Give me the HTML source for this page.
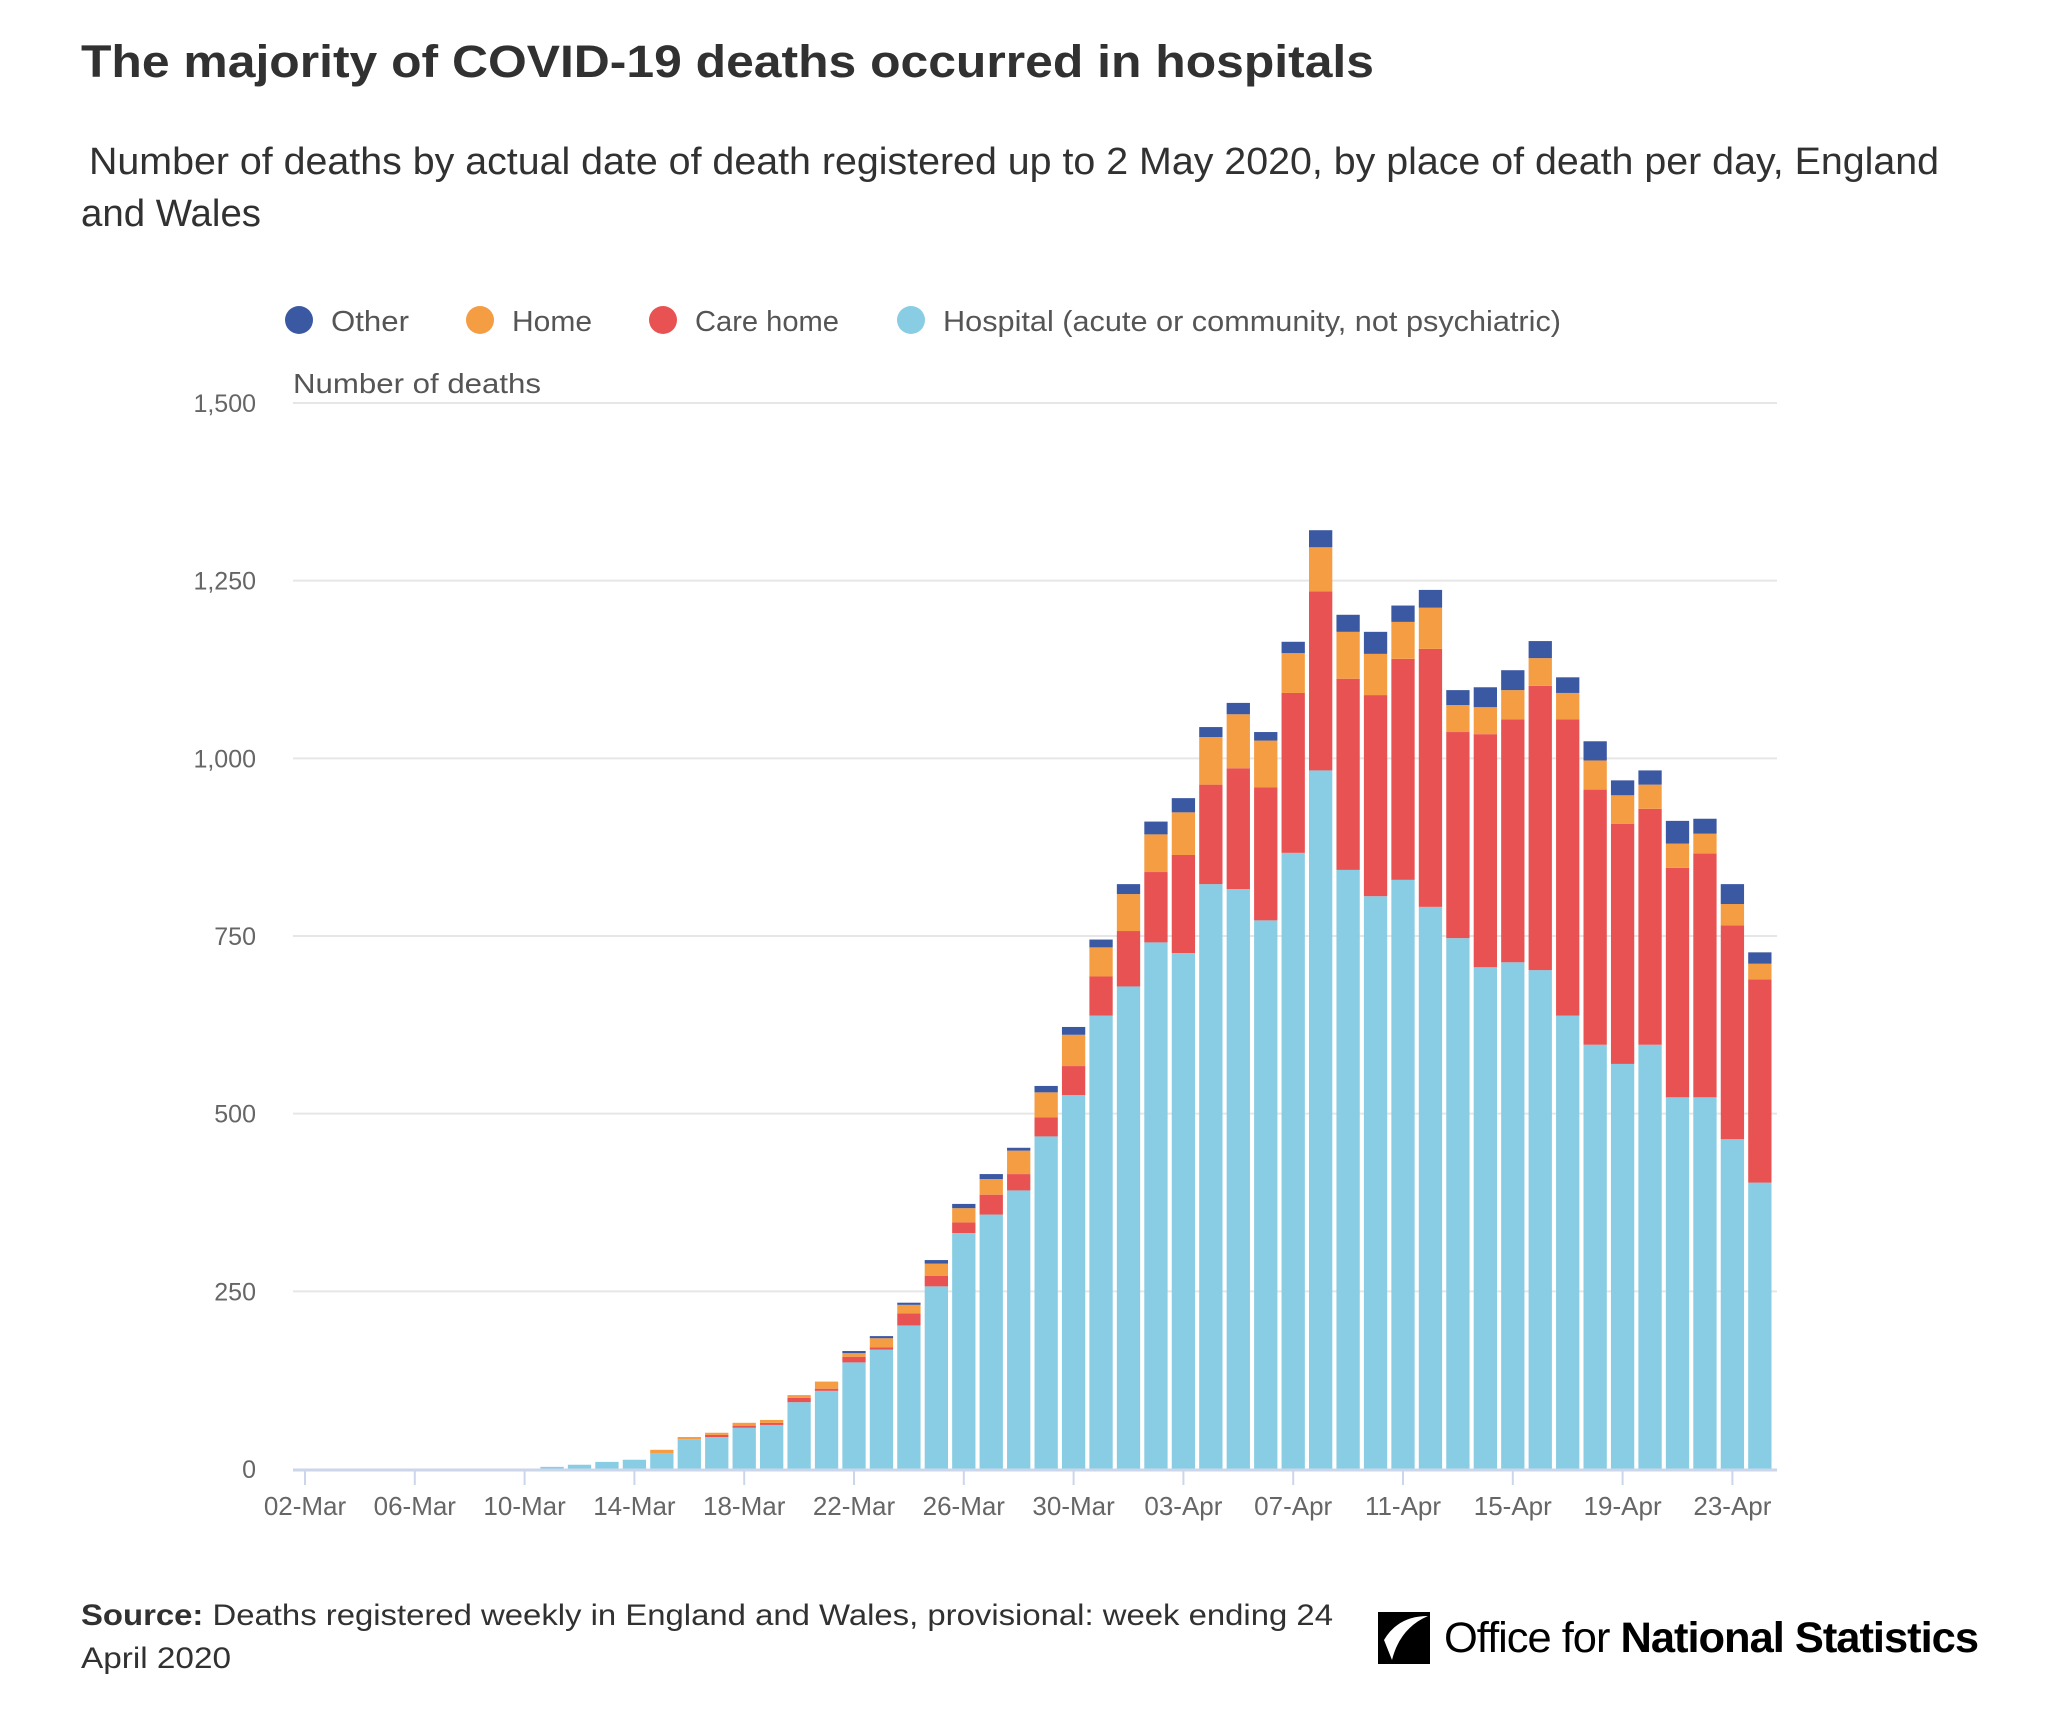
<!DOCTYPE html>
<html><head><meta charset="utf-8"><style>
body{margin:0;background:#fff;font-family:"Liberation Sans",sans-serif;}
#wrap{position:relative;width:2048px;height:1712px;overflow:hidden;}
</style></head><body>
<div id="wrap">
<svg id="chart" width="2048" height="1712" xmlns="http://www.w3.org/2000/svg">
<text x="81" y="77" font-size="45" font-weight="bold" fill="#323132" font-family="Liberation Sans, sans-serif" textLength="1293" lengthAdjust="spacingAndGlyphs">The majority of COVID-19 deaths occurred in hospitals</text>
<text x="89" y="174" font-size="38" fill="#323132" font-family="Liberation Sans, sans-serif" textLength="1850" lengthAdjust="spacingAndGlyphs">Number of deaths by actual date of death registered up to 2 May 2020, by place of death per day, England</text>
<text x="81" y="226" font-size="38" fill="#323132" font-family="Liberation Sans, sans-serif" textLength="180" lengthAdjust="spacingAndGlyphs">and Wales</text>
<g id="legend"></g>
<text x="293" y="393" font-size="28" fill="#555" font-family="Liberation Sans, sans-serif" textLength="248" lengthAdjust="spacingAndGlyphs">Number of deaths</text>
<g id="grid"></g>
<g id="bars"></g>
<g id="xaxis"></g>
<text x="81" y="1625" font-size="30" fill="#323132" font-family="Liberation Sans, sans-serif" textLength="1252" lengthAdjust="spacingAndGlyphs"><tspan font-weight="bold">Source:</tspan> Deaths registered weekly in England and Wales, provisional: week ending 24</text>
<text x="81" y="1668" font-size="30" fill="#323132" font-family="Liberation Sans, sans-serif" textLength="150" lengthAdjust="spacingAndGlyphs">April 2020</text>
<g>
<path d="M1378 1612 L1430 1612 L1430 1664 L1378 1664 Z" fill="#000"/>
<path d="M1384 1640 Q1398 1616 1428 1616 Q1400 1628 1392 1660 Z" fill="#fff"/>
<text x="1444" y="1652" font-size="43" fill="#000" font-family="Liberation Sans, sans-serif" letter-spacing="-1" textLength="534" lengthAdjust="spacingAndGlyphs">Office for <tspan font-weight="bold">National Statistics</tspan></text>
</g>
</svg>
</div>
<script>
const dayLabels = ["02-Mar","06-Mar","10-Mar","14-Mar","18-Mar","22-Mar","26-Mar","30-Mar","03-Apr","07-Apr","11-Apr","15-Apr","19-Apr","23-Apr"];
const yTicks = [0,250,500,750,1000,1250,1500];
const seriesNames = ["Other","Home","Care home","Hospital (acute or community, not psychiatric)"];
// index 0 = 02-Mar ... 53 = 24-Apr
const hospital = [0,0,0,0,0,0,0,0,0,3,6,10,13,22,42,45,58,62,94,110,150,168,202,257,332,358,392,468,526,638,679,741,726,823,816,772,867,983,843,806,829,791,747,706,713,702,638,597,570,597,523,523,464,403];
const careHome = [0,0,0,0,0,0,0,0,0,0,0,0,0,0,0,3,3,3,6,3,8,3,17,15,15,28,23,27,41,55,78,99,138,140,170,187,225,252,269,283,311,363,290,328,342,400,417,359,338,332,323,343,301,286];
const home     = [0,0,0,0,0,0,0,0,0,0,0,0,0,5,3,3,4,4,4,10,5,13,12,17,20,22,33,35,44,41,52,53,60,67,76,66,56,62,66,58,52,58,38,38,41,39,37,41,40,34,34,28,30,22];
const other    = [0,0,0,0,0,0,0,0,0,0,0,0,0,0,0,0,0,0,0,0,3,3,3,5,6,7,4,9,11,11,14,18,20,14,16,12,16,24,24,31,23,25,21,28,28,24,22,27,21,20,32,21,28,16];
const colors = {hospital:"#88cde3",care:"#e85252",home:"#f59d42",other:"#3b58a2"};

const NS="http://www.w3.org/2000/svg";
const L=293,R=1777,T=403,B=1469,YMAX=1500;
const x0=305, step=27.45, bw=23.3;
function yS(v){return B-(v/YMAX)*(B-T);}
function xS(i){return x0+i*step;}
function mk(tag,attrs,parent){const e=document.createElementNS(NS,tag);for(const k in attrs)e.setAttribute(k,attrs[k]);parent.appendChild(e);return e;}

const grid=document.getElementById('grid');
yTicks.forEach(v=>{
  if(v>0){const ln=mk('line',{x1:L,x2:R,y1:yS(v),y2:yS(v),stroke:'#e6e6e6','stroke-width':2},grid);
  
  }
  const t=mk('text',{x:256,y:yS(v)+9,'text-anchor':'end','font-size':25,fill:'#666','font-family':'Liberation Sans, sans-serif'},grid);
  t.textContent=v.toLocaleString('en-US');
  
  
});

const bars=document.getElementById('bars');
const segs=[["hospital",hospital],["care",careHome],["home",home],["other",other]];
for(let i=0;i<hospital.length;i++){
  let base=0;
  segs.forEach(([k,arr])=>{
    const v=arr[i]; if(v<=0)return;
    const r=mk('rect',{x:xS(i)-bw/2,y:yS(base+v),width:bw,height:yS(base)-yS(base+v),fill:colors[k]},bars);
    
    
    base+=v;
  });
}

const xa=document.getElementById('xaxis');
const ax=mk('line',{x1:L,x2:R,y1:B+1,y2:B+1,stroke:'#ccd6eb','stroke-width':3},xa);


dayLabels.forEach((lab,j)=>{
  const x=xS(j*4);
  const tk=mk('line',{x1:x,x2:x,y1:B,y2:B+16,stroke:'#ccd6eb','stroke-width':2},xa);
  
  
  const t=mk('text',{x:x,y:B+46,'text-anchor':'middle','font-size':26,fill:'#666','font-family':'Liberation Sans, sans-serif'},xa);
  t.textContent=lab;
  
  
});

const lg=document.getElementById('legend');
const lx=[299,480,663,911], lc=[colors.other,colors.home,colors.care,colors.hospital];
const lw=[78,80,144,618];
seriesNames.forEach((n,i)=>{
  const c=mk('circle',{cx:lx[i],cy:320,r:14,fill:lc[i]},lg);
  
  
  const t=mk('text',{x:lx[i]+32,y:331,'font-size':29,fill:'#555','font-family':'Liberation Sans, sans-serif',textLength:lw[i],lengthAdjust:'spacingAndGlyphs'},lg);
  t.textContent=n;
  
  
});
</script>
</body></html>
